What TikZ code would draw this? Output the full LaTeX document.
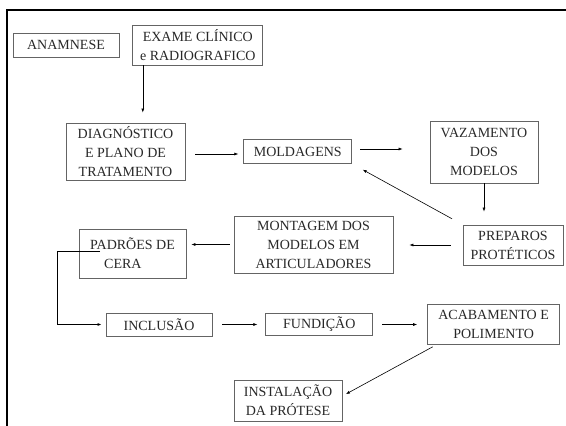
\documentclass[tikz,border=0pt]{standalone}
\usepackage{fontspec}
\setmainfont{Liberation Serif}
\usetikzlibrary{arrows.meta,positioning}
\definecolor{boxgray}{RGB}{100,100,100}
\definecolor{textgray}{RGB}{40,40,40}

\begin{document}
\begin{tikzpicture}[x=1pt,y=-1pt,
  etapa/.style={draw=boxgray, line width=0.8pt, text=textgray, inner sep=0pt,
    align=center, font=\fontsize{14}{19}\selectfont},
  seta/.style={-{Latex[length=4pt,width=3pt]}, line width=0.6pt}]
  \useasboundingbox (0,0) rectangle (566,426);
  %The thick frame, only its top and left side are in the picture.
  \draw[line width=2.6pt] (566,10) -- (7,10) -- (7,426);

  %First row of steps
  \node[etapa, minimum width=106pt, minimum height=24pt] (anam) at (66,45) {ANAMNESE};
  \node[etapa, minimum width=130pt, minimum height=40pt, right=13pt of anam] (exame)
    {EXAME CLÍNICO\\e RADIOGRAFICO};
  %Second row
  \node[etapa, minimum width=119pt, minimum height=57pt] (diag) at (125.5,151.5)
    {DIAGNÓSTICO\\E PLANO DE\\TRATAMENTO};
  \node[etapa, minimum width=108pt, minimum height=24pt, right=58pt of diag] (mold) {MOLDAGENS};
  \node[etapa, minimum width=108pt, minimum height=62pt] (vaz) at (484,152)
    {VAZAMENTO\\DOS\\MODELOS};
  %Third row, read from right to left
  \node[etapa, minimum width=100pt, minimum height=40pt] (prep) at (513,245)
    {PREPAROS\\PROTÉTICOS};
  \node[etapa, minimum width=159pt, minimum height=57pt] (mont) at (313.5,244.5)
    {MONTAGEM DOS\\MODELOS EM\\ARTICULADORES};
  \node[etapa, align=left, minimum width=107pt, minimum height=49pt] (padr) at (132.5,253.5)
    {PADRÕES DE\\\hspace*{14pt}CERA};
  %Fourth row
  \node[etapa, minimum width=106pt, minimum height=23pt] (incl) at (159,324.5) {INCLUSÃO};
  \node[etapa, minimum width=107pt, minimum height=22pt, right=53pt of incl] (fund) {FUNDIÇÃO};
  \node[etapa, minimum width=132pt, minimum height=40pt, right=54pt of fund] (acab)
    {ACABAMENTO E\\POLIMENTO};
  %Last step
  \node[etapa, minimum width=108pt, minimum height=41pt] (inst) at (288,400.5)
    {INSTALAÇÃO\\DA PRÓTESE};

  %The free end of the elbow line sits inside the box, left of CERA.
  \coordinate (cera) at ([xshift=-32.5pt,yshift=2.5pt]padr.center);

  %Arrows between the steps
  \draw[seta, shorten >=10pt] ([xshift=-55pt]exame.south) -- ([xshift=-55pt]exame.south |- diag.north);
  \draw[seta, shorten <=10pt, shorten >=5pt] ([yshift=-2.5pt]diag.east) -- ([yshift=-2.5pt]mold.west);
  \draw[seta, shorten <=8pt, shorten >=27pt] ([yshift=2.5pt]mold.east) -- ([yshift=2.5pt]mold.east -| vaz.west);
  \draw[seta, shorten >=13pt] (vaz.south) -- (vaz.south |- prep.north);
  \draw[seta, shorten <=12pt, shorten >=12pt] (prep.north west) -- (mold.south east);
  \draw[seta, shorten <=12pt, shorten >=16pt] (prep.west) -- (prep.west -| mont.east);
  \draw[seta, shorten <=4pt, shorten >=5pt] (mont.west) -- (mont.west -| padr.east);
  \draw[seta, line width=0.9pt, shorten >=4pt] (cera) -- ++(-43,0) |- (incl.west);
  \draw[seta, shorten <=10pt, shorten >=8pt] (incl) -- (fund);
  \draw[seta, shorten <=9pt, shorten >=10pt] (fund) -- (acab);
  \draw[seta, shorten <=4pt, shorten >=4pt] ([xshift=9pt]acab.south west) -- ([yshift=4.5pt]inst.east);
\end{tikzpicture}
\end{document}
